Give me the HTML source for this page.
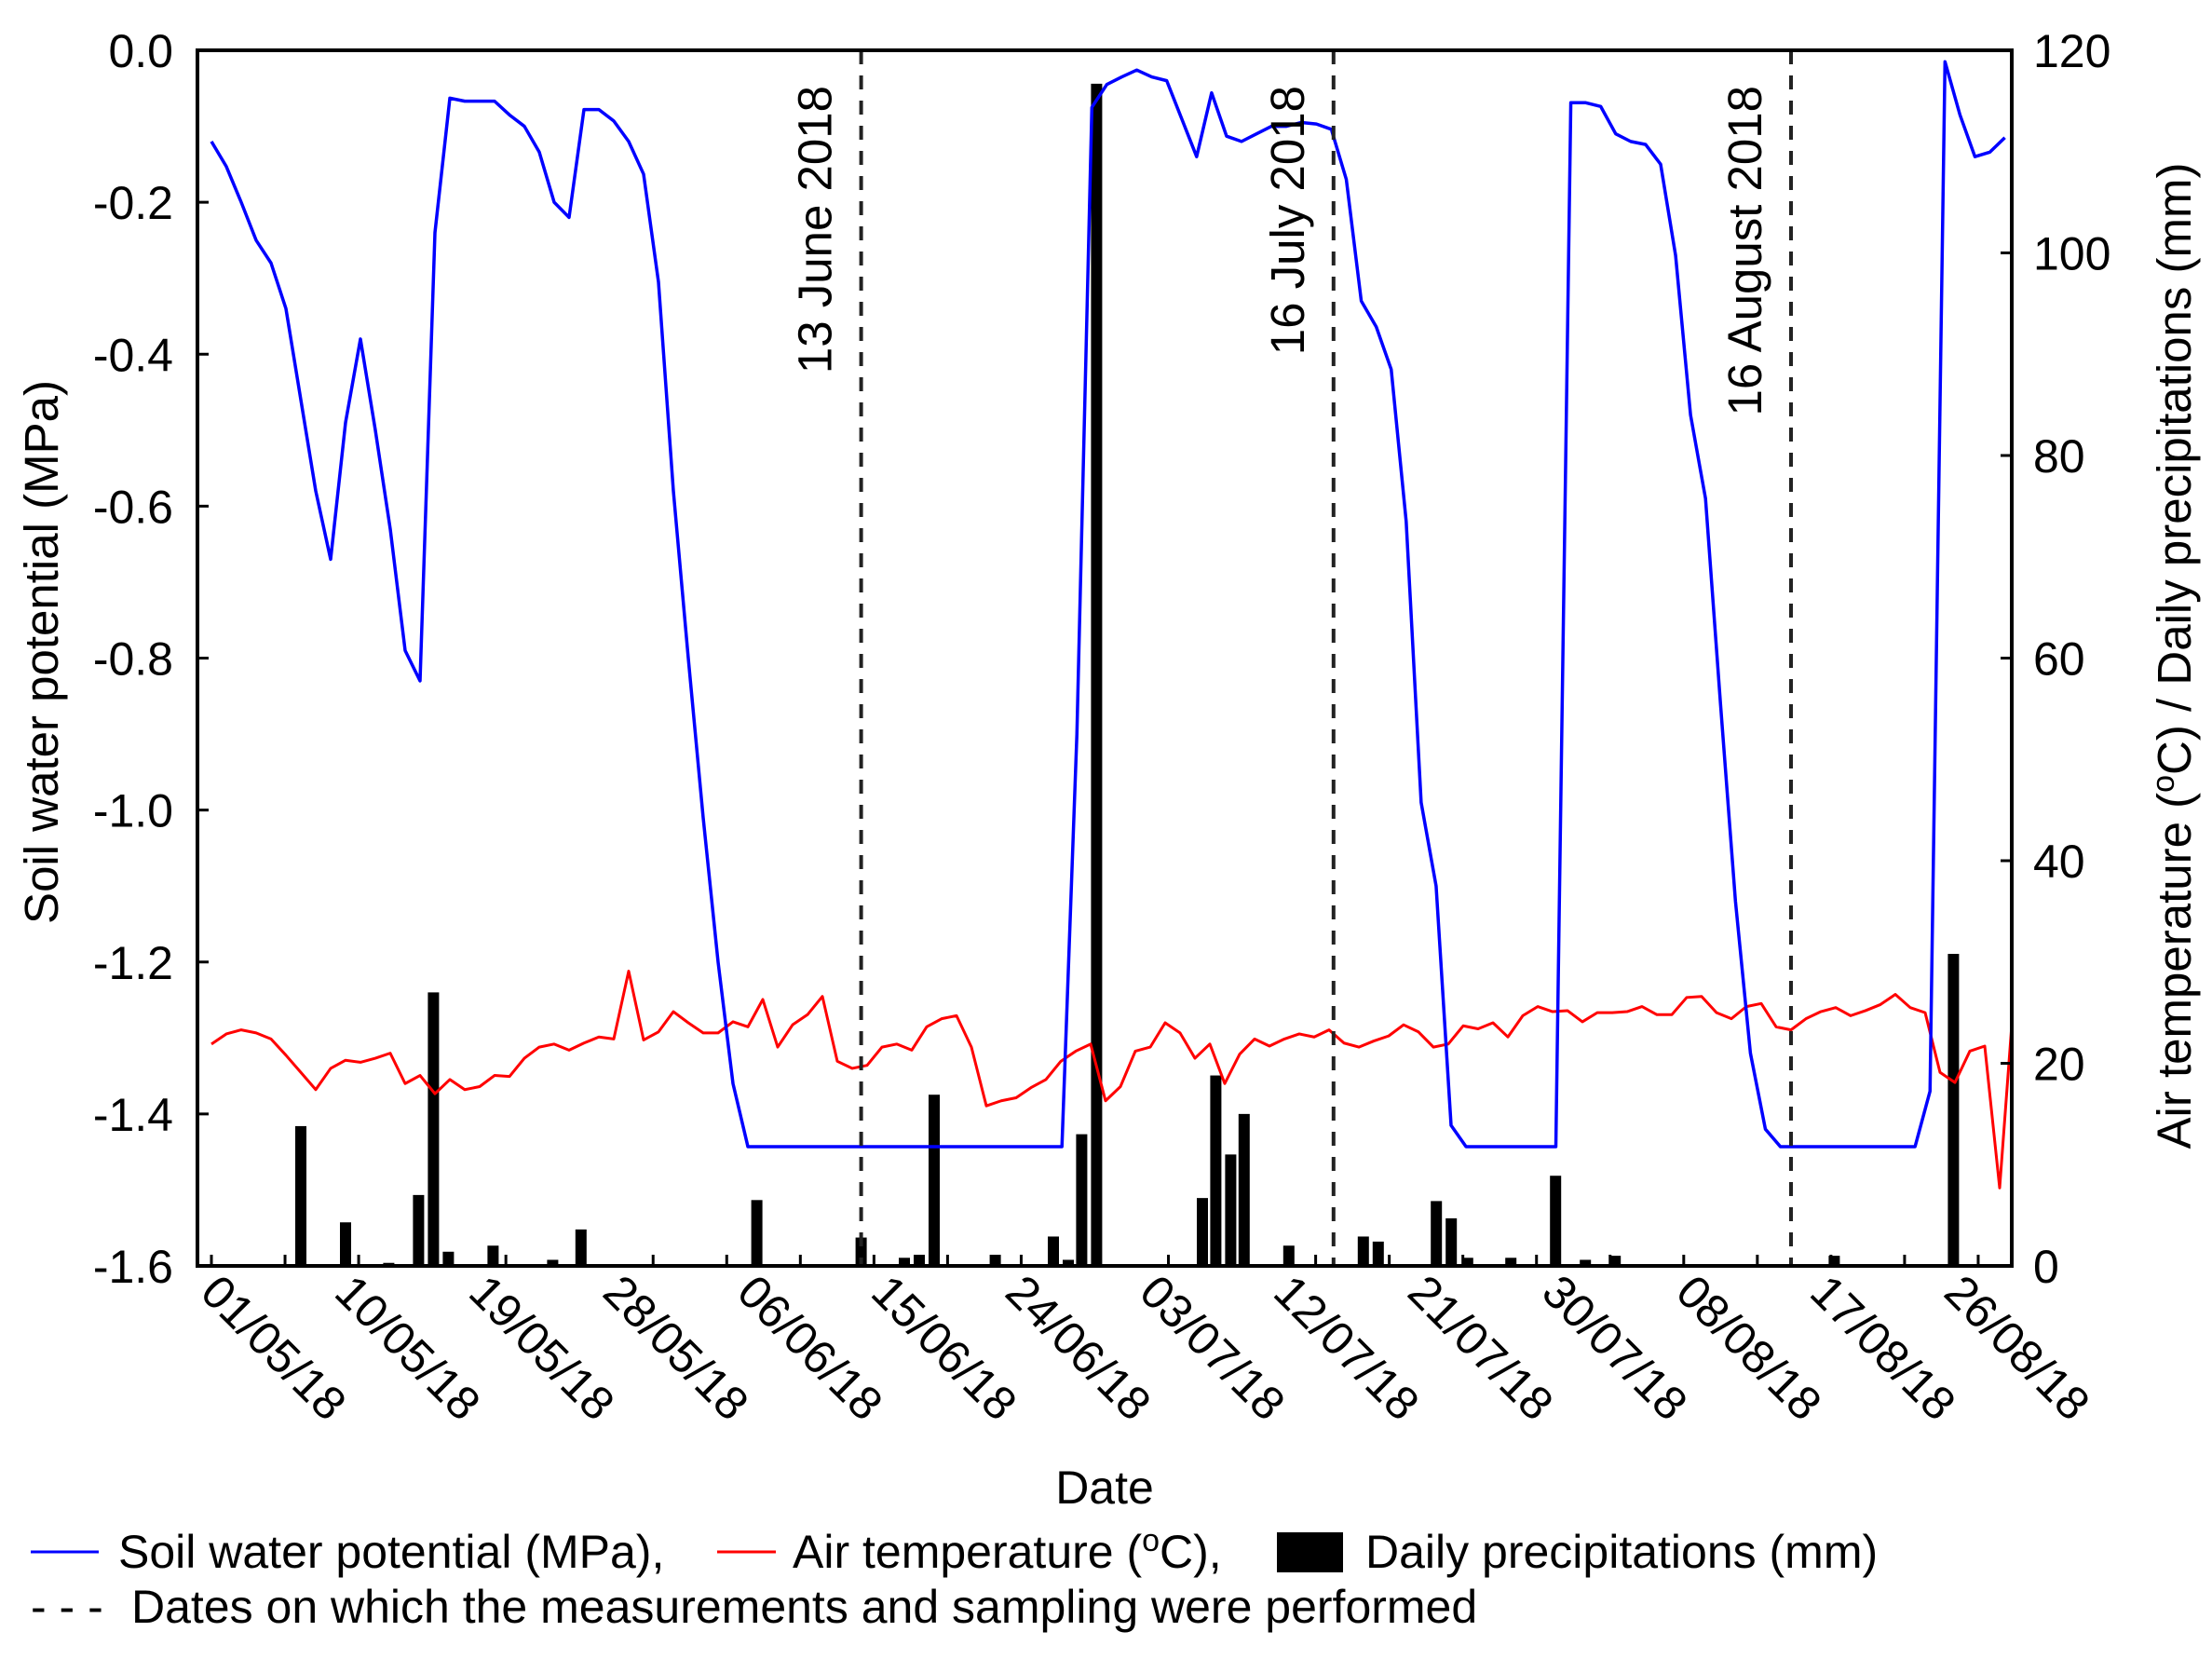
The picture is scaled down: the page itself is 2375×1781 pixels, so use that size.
<!DOCTYPE html>
<html><head><meta charset="utf-8">
<style>
html,body{margin:0;padding:0;background:#fff;}
svg{display:block;font-family:"Liberation Sans",Arial,sans-serif;}
</style></head>
<body>
<svg id="chart" width="2375" height="1781" viewBox="0 0 2375 1781" xmlns="http://www.w3.org/2000/svg">
<defs><clipPath id="plotclip"><rect x="212" y="54" width="1948" height="1305"/></clipPath></defs>
<g id="marks" clip-path="url(#plotclip)"></g>
<g id="axes"></g>
<text x="0" y="0" font-size="51" text-anchor="middle" transform="translate(62,700) rotate(-90)">Soil water potential (MPa)</text>
<text x="0" y="0" font-size="51" text-anchor="middle" transform="translate(2352,704) rotate(-90)">Air temperature (<tspan font-size="34" dy="-18">o</tspan><tspan dy="18">C) / Daily precipitations (mm)</tspan></text>
<text x="1186" y="1614" font-size="50" text-anchor="middle">Date</text>
<g>
<line x1="33" y1="1666" x2="106" y2="1666" stroke="#0000ff" stroke-width="3"/>
<text x="127" y="1683" font-size="50">Soil water potential (MPa),</text>
<line x1="770" y1="1666" x2="833" y2="1666" stroke="#ff0000" stroke-width="3"/>
<text x="851" y="1683" font-size="50">Air temperature (<tspan font-size="34" dy="-18">o</tspan><tspan dy="18">C),</tspan></text>
<rect x="1371" y="1645" width="71" height="43" fill="#000"/>
<text x="1466" y="1683" font-size="50">Daily precipitations (mm)</text>
<text x="33" y="1742" font-size="50">- - -</text>
<text x="141" y="1742" font-size="50">Dates on which the measurements and sampling were performed</text>
</g>
</svg>
<script>
const swp = [-0.12,-0.153,-0.2,-0.25,-0.28,-0.34,-0.46,-0.58,-0.67,-0.49,-0.38,-0.5,-0.63,-0.79,-0.83,-0.24,-0.063,-0.067,-0.067,-0.067,-0.085,-0.1,-0.134,-0.2,-0.22,-0.078,-0.078,-0.093,-0.12,-0.163,-0.305,-0.58,-0.8,-1.01,-1.2,-1.36,
-1.443,-1.443,-1.443,-1.443,-1.443,-1.443,-1.443,-1.443,-1.443,-1.443,-1.443,-1.443,-1.443,-1.443,-1.443,-1.443,-1.443,-1.443,-1.443,-1.443,-1.443,-1.443,
-0.9,-0.075,-0.045,-0.035,-0.026,-0.035,-0.04,-0.09,-0.14,-0.056,-0.113,-0.12,-0.11,-0.1,-0.1,-0.095,-0.097,-0.104,-0.17,-0.33,-0.364,-0.42,-0.62,-0.99,-1.1,-1.415,
-1.443,-1.443,-1.443,-1.443,-1.443,-1.443,-1.443,
-0.069,-0.069,-0.074,-0.11,-0.12,-0.124,-0.15,-0.27,-0.48,-0.59,-0.86,-1.12,-1.32,-1.42,
-1.443,-1.443,-1.443,-1.443,-1.443,-1.443,-1.443,-1.443,-1.443,-1.443,
-1.37,-0.015,-0.085,-0.14,-0.134,-0.115];
const temp = [21.9,22.9,23.3,23,22.4,20.8,19.1,17.4,19.5,20.3,20.1,20.5,21,18,18.8,17,18.4,17.4,17.7,18.8,18.7,20.5,21.6,21.9,21.3,22,22.6,22.4,29.1,22.3,23.1,25.1,24,23,23,24.1,23.6,26.3,21.6,23.8,24.8,26.6,20.2,19.5,19.8,21.6,21.9,21.3,23.6,24.4,24.7,21.6,15.8,16.3,16.6,17.6,18.4,20.2,21.2,21.9,16.3,17.7,21.2,21.6,24,23,20.5,21.9,18,20.9,22.4,21.7,22.4,22.9,22.6,23.3,22,21.6,22.2,22.7,23.8,23.1,21.6,21.9,23.7,23.4,24,22.6,24.7,25.6,25.1,25.2,24.1,25,25,25.1,25.6,24.8,24.8,26.5,26.6,25,24.4,25.6,25.9,23.6,23.3,24.4,25.1,25.5,24.7,25.2,25.8,26.8,25.5,25,19.1,18.1,21.2,21.7,7.7,27.5];
const precipDays = [6,9,11.9,13.9,14.9,15.9,18.9,22.9,24.8,36.6,43.6,46.5,47.5,48.5,52.6,56.5,57.5,58.4,59.4,66.5,67.4,68.4,69.3,72.3,77.3,78.3,82.2,83.2,84.3,87.2,90.2,92.2,94.2,108.9,116.9];
const precipVals = [13.8,4.3,0.3,7,27,1.4,2,0.6,3.6,6.5,2.8,0.8,1.1,16.9,1.1,2.9,0.6,13,116.7,6.7,18.8,11,15,2,2.9,2.4,6.4,4.7,0.8,0.8,8.9,0.6,1,1,30.8];
const xLabels = ["01/05/18","10/05/18","19/05/18","28/05/18","06/06/18","15/06/18","24/06/18","03/07/18","12/07/18","21/07/18","30/07/18","08/08/18","17/08/18","26/08/18"];
const leftTicks = [0,-0.2,-0.4,-0.6,-0.8,-1.0,-1.2,-1.4,-1.6];
const rightTicks = [0,20,40,60,80,100,120];
const sampleDays = [43.6,75.3,106.0];
const sampleLabels = ["13 June 2018","16 July 2018","16 August 2018"];

const NS = "http://www.w3.org/2000/svg";
const X0=212,X1=2160,Y0=54,Y1=1359;
const xs = d => 227 + d*16.0;
const xl = d => 227 + d*16.0 + Math.max(0, d-40)*0.07;
const yl = v => Y0 + (-v)/1.6*(Y1-Y0);
const yr = v => Y1 - v/120*(Y1-Y0);
const marks = document.getElementById('marks');
const axes = document.getElementById('axes');
function mk(tag, attrs, parent){const e=document.createElementNS(NS,tag);for(const k in attrs)e.setAttribute(k,attrs[k]);parent.appendChild(e);return e;}

precipDays.forEach((d,i)=>{
  const r = mk('rect',{x:xs(d)-6,y:yr(precipVals[i]),width:12,height:Y1-yr(precipVals[i]),fill:'#000'},marks);
  
  
});
const tl = mk('polyline',{points:temp.map((v,i)=>xs(i)+','+yr(v)).join(' '),fill:'none',stroke:'#ff0000','stroke-width':3,'stroke-linejoin':'round'},marks);


const sl = mk('polyline',{points:swp.map((v,i)=>xl(i)+','+yl(v)).join(' '),fill:'none',stroke:'#0000ff','stroke-width':3.5,'stroke-linejoin':'round'},marks);


sampleDays.forEach((d,i)=>{
  const l = mk('line',{x1:xs(d),y1:Y0,x2:xs(d),y2:Y1,stroke:'#222','stroke-width':4,'stroke-dasharray':'15 12'},axes);
  
  
  const t = mk('text',{x:0,y:0,'font-size':51,'text-anchor':'end',transform:'translate('+(xs(d)-32)+',92) rotate(-90)'},axes);
  t.textContent = sampleLabels[i];
  
  
});
const fr = mk('rect',{x:X0,y:Y0,width:X1-X0,height:Y1-Y0,fill:'none',stroke:'#000','stroke-width':4},axes);


leftTicks.forEach(v=>{
  mk('line',{x1:X0,y1:yl(v),x2:X0+12,y2:yl(v),stroke:'#000','stroke-width':3},axes);
  const t = mk('text',{x:186,y:yl(v)+18,'font-size':50,'text-anchor':'end'},axes);
  t.textContent = v.toFixed(1);
  
  
});
rightTicks.forEach(v=>{
  mk('line',{x1:X1-12,y1:yr(v),x2:X1,y2:yr(v),stroke:'#000','stroke-width':3},axes);
  const t = mk('text',{x:2183,y:yr(v)+18,'font-size':50},axes);
  t.textContent = v;
  
  
});
for(let k=0;k<25;k++){
  const x = xs(k*4.94);
  if(x>X1-4) break;
  mk('line',{x1:x,y1:Y1,x2:x,y2:Y1-12,stroke:'#000','stroke-width':3},axes);
}
xLabels.forEach((s,i)=>{
  const x = xs(i*9);
  const t = mk('text',{x:0,y:0,'font-size':50,transform:'translate('+(x-14)+',1390) rotate(45)'},axes);
  t.textContent = s;
  
  
});
</script>
</body></html>
